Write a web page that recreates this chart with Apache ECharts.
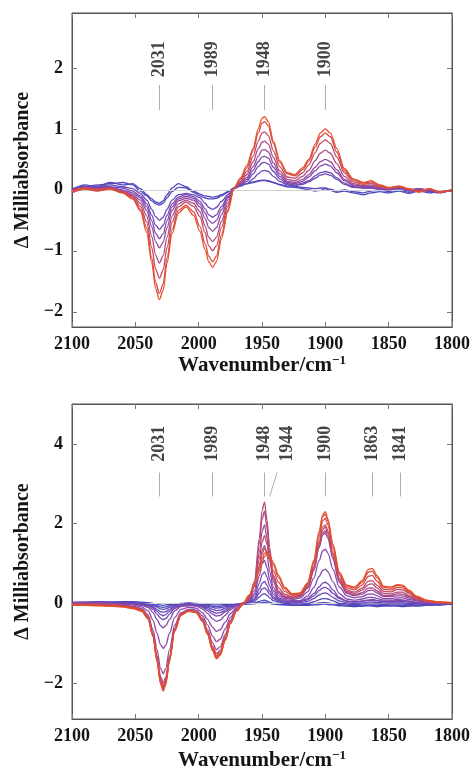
<!DOCTYPE html>
<html>
<head>
<meta charset="utf-8" />
<title></title>
<style>
html,body{margin:0;padding:0;background:#fff;}
#chart{width:473px;height:772px;}
</style>
</head>
<body>
<div id="chart"></div>
<script src="https://cdn.jsdelivr.net/npm/echarts@6/dist/echarts.min.js"></script>
<script>
// wavenumbers (cm-1) sampled for the upper panel
var topX = [2100,2090,2080,2070,2060,2052,2046,2041,2037,2034,2031,2028,2025,2021,2016,2010,
            2004,1999,1995,1992,1989,1986,1982,1977,1972,
            1967,1962,1957,1953,1950,1948,1945,1941,1936,
            1930,1924,1918,1913,1908,1904,1900,
            1896,1891,1885,1878,1870,1864,1857,1850,1842,1834,1826,1818,1810,1800];

// upper panel spectra, blue (first) to red (last)
var top0 = [0.0,0.08,0.05,0.12,0.08,0.1,0.02,-0.08,-0.15,-0.2,-0.22,-0.18,-0.08,0.03,0.1,0.05,
            -0.02,-0.07,-0.1,-0.11,-0.12,-0.11,-0.08,-0.03,0.03,
            0.07,0.1,0.13,0.15,0.16,0.16,0.15,0.12,0.08,
            0.05,0.04,0.02,0.0,-0.02,-0.01,0.02,
            -0.01,-0.04,-0.02,-0.05,-0.08,-0.05,-0.03,-0.05,-0.02,-0.06,-0.02,-0.05,-0.03,-0.02];
var top1 = [-0.03,0.05,0.08,0.1,0.12,0.08,-0.02,-0.1,-0.18,-0.23,-0.25,-0.22,-0.13,-0.03,0.04,0.03,
            -0.04,-0.1,-0.13,-0.15,-0.15,-0.14,-0.1,-0.04,0.03,
            0.08,0.1,0.12,0.14,0.15,0.15,0.14,0.12,0.09,
            0.06,0.06,0.04,0.03,0.02,0.03,0.03,
            0.01,-0.02,0.0,-0.03,-0.05,-0.02,0.0,-0.03,0.0,-0.04,0.0,-0.03,-0.05,0.0];
var top2 = [0.02,0.06,0.04,0.08,0.05,0.02,-0.06,-0.17,-0.32,-0.44,-0.5,-0.45,-0.32,-0.17,-0.08,-0.06,
            -0.08,-0.13,-0.22,-0.29,-0.32,-0.29,-0.19,-0.08,0.02,
            0.06,0.1,0.18,0.26,0.31,0.32,0.3,0.22,0.14,
            0.08,0.07,0.09,0.13,0.19,0.24,0.26,
            0.24,0.17,0.09,0.04,0.03,0.03,0.01,0.0,0.02,-0.02,0.01,-0.02,-0.04,0.0];
var top3 = [0.0,0.04,0.06,0.05,0.03,-0.02,-0.1,-0.23,-0.42,-0.58,-0.65,-0.58,-0.42,-0.23,-0.12,-0.08,
            -0.11,-0.19,-0.31,-0.41,-0.45,-0.41,-0.27,-0.11,0.02,
            0.08,0.14,0.26,0.38,0.44,0.45,0.42,0.3,0.18,
            0.1,0.08,0.11,0.15,0.23,0.28,0.3,
            0.28,0.2,0.11,0.05,0.03,0.03,0.02,0.01,0.03,-0.01,0.02,-0.02,-0.03,0.0];
var top4 = [-0.02,0.03,0.04,0.04,0.0,-0.05,-0.13,-0.28,-0.51,-0.71,-0.8,-0.72,-0.51,-0.28,-0.15,-0.11,
            -0.14,-0.23,-0.38,-0.5,-0.55,-0.5,-0.33,-0.13,0.02,
            0.09,0.17,0.32,0.46,0.54,0.55,0.52,0.37,0.22,
            0.12,0.1,0.14,0.21,0.31,0.39,0.42,
            0.39,0.28,0.15,0.07,0.05,0.05,0.03,0.01,0.03,0.0,0.02,-0.01,-0.03,0.0];
var top5 = [-0.03,0.02,0.02,0.03,-0.02,-0.08,-0.17,-0.34,-0.61,-0.85,-0.95,-0.86,-0.62,-0.34,-0.18,-0.14,
            -0.17,-0.28,-0.47,-0.62,-0.68,-0.62,-0.41,-0.17,0.02,
            0.1,0.2,0.38,0.55,0.65,0.66,0.62,0.44,0.26,
            0.14,0.12,0.17,0.25,0.37,0.46,0.5,
            0.46,0.33,0.17,0.08,0.06,0.06,0.03,0.01,0.04,0.0,0.01,0.0,-0.03,-0.01];
var top6 = [-0.04,0.02,0.0,0.03,-0.03,-0.1,-0.22,-0.43,-0.77,-1.07,-1.2,-1.08,-0.78,-0.43,-0.23,-0.17,
            -0.22,-0.36,-0.59,-0.78,-0.85,-0.78,-0.52,-0.22,0.02,
            0.12,0.25,0.46,0.67,0.78,0.8,0.75,0.53,0.31,
            0.17,0.15,0.22,0.32,0.48,0.6,0.65,
            0.6,0.43,0.22,0.1,0.07,0.08,0.04,0.02,0.05,0.01,-0.01,0.01,-0.03,-0.01];
var top7 = [-0.05,0.01,-0.02,0.02,-0.04,-0.12,-0.27,-0.53,-0.95,-1.3,-1.45,-1.31,-0.95,-0.53,-0.28,-0.2,
            -0.27,-0.44,-0.7,-0.92,-1.0,-0.92,-0.62,-0.27,0.03,
            0.14,0.3,0.55,0.8,0.93,0.95,0.89,0.64,0.38,
            0.21,0.19,0.28,0.41,0.61,0.76,0.82,
            0.76,0.54,0.28,0.13,0.09,0.11,0.05,0.03,0.05,0.01,-0.02,0.01,-0.04,-0.01];
var top8 = [-0.03,0.02,-0.01,0.01,-0.05,-0.14,-0.32,-0.63,-1.12,-1.52,-1.7,-1.54,-1.12,-0.65,-0.34,-0.25,
            -0.36,-0.6,-0.88,-1.09,-1.18,-1.09,-0.74,-0.33,0.03,
            0.17,0.36,0.64,0.93,1.09,1.12,1.05,0.76,0.45,
            0.26,0.23,0.33,0.47,0.7,0.87,0.93,
            0.87,0.62,0.32,0.16,0.11,0.13,0.07,0.03,0.06,0.01,-0.03,0.02,-0.04,0.0];
var top9 = [-0.02,0.03,0.0,0.02,-0.05,-0.15,-0.35,-0.7,-1.2,-1.62,-1.8,-1.65,-1.2,-0.72,-0.38,-0.28,
            -0.42,-0.68,-0.98,-1.18,-1.27,-1.18,-0.8,-0.36,0.04,
            0.19,0.4,0.68,1.0,1.17,1.2,1.12,0.8,0.48,
            0.28,0.25,0.36,0.5,0.75,0.93,1.0,
            0.93,0.68,0.35,0.18,0.12,0.15,0.08,0.04,0.06,0.02,-0.04,0.02,-0.04,0.0];

// wavenumbers sampled for the lower panel
var botX = [2100,2090,2080,2070,2060,2052,2045,2040,2036,2033,2030,2028,2026,2023,2019,2014,
            2008,2002,1997,1993,1989,1986,1983,1979,1975,1970,1965,
            1960,1956,1952,1950,1948,1946,1944,1941,1937,1932,1926,1920,
            1914,1909,1905,1902,1900,1898,1894,1889,1883,1877,1871,
            1866,1863,1859,1854,1848,1843,1839,1834,1828,1820,1812,1806,1800];

// lower panel spectra, blue (first) to red (last)
var bot0 = [0.0,0.01,0.02,0.03,0.04,0.04,0.03,0.02,0.0,-0.02,-0.04,-0.05,-0.04,-0.03,-0.01,0.0,
            0.01,0.0,-0.01,-0.03,-0.04,-0.04,-0.04,-0.03,-0.03,-0.02,-0.02,
            -0.02,-0.01,0.01,0.02,0.03,0.02,0.0,-0.02,-0.03,-0.04,-0.05,-0.05,
            -0.05,-0.04,-0.03,-0.02,-0.02,-0.03,-0.04,-0.06,-0.07,-0.08,-0.07,
            -0.06,-0.07,-0.08,-0.07,-0.06,-0.07,-0.08,-0.07,-0.06,-0.05,-0.04,-0.03,-0.02];
var bot1 = [0.01,0.02,0.04,0.03,0.03,0.02,0.01,-0.01,-0.03,-0.06,-0.09,-0.1,-0.09,-0.06,-0.03,-0.01,
            0.0,-0.01,-0.03,-0.05,-0.07,-0.08,-0.07,-0.06,-0.04,-0.02,-0.01,
            0.0,0.01,0.05,0.07,0.08,0.06,0.03,0.0,-0.02,-0.03,-0.04,-0.04,
            -0.03,-0.01,0.01,0.02,0.02,0.01,-0.01,-0.03,-0.05,-0.05,-0.06,
            -0.05,-0.05,-0.06,-0.05,-0.06,-0.05,-0.06,-0.05,-0.06,-0.05,-0.04,-0.03,-0.02];
var bot2 = [0.02,0.03,0.03,0.03,0.02,0.01,0.0,-0.02,-0.05,-0.09,-0.14,-0.15,-0.14,-0.1,-0.05,-0.02,
            -0.01,-0.02,-0.04,-0.07,-0.1,-0.12,-0.11,-0.08,-0.05,-0.02,0.0,
            0.02,0.05,0.16,0.22,0.24,0.2,0.14,0.07,0.03,0.0,-0.02,-0.02,
            0.0,0.04,0.09,0.12,0.12,0.11,0.06,0.0,-0.02,-0.03,-0.02,
            -0.02,-0.02,-0.02,-0.03,-0.02,-0.02,-0.02,-0.03,-0.04,-0.03,-0.04,-0.02,-0.01];
var bot3 = [0.03,0.02,0.03,0.02,0.01,0.0,-0.01,-0.04,-0.08,-0.15,-0.21,-0.22,-0.21,-0.15,-0.07,-0.03,
            -0.02,-0.03,-0.06,-0.1,-0.15,-0.18,-0.17,-0.12,-0.07,-0.02,0.0,
            0.03,0.09,0.26,0.36,0.39,0.33,0.23,0.12,0.06,0.03,0.01,0.02,
            0.05,0.12,0.21,0.25,0.26,0.24,0.15,0.06,0.01,0.0,0.01,
            0.03,0.03,0.02,0.01,0.01,0.01,0.01,0.0,-0.01,-0.02,-0.02,-0.01,0.0];
var bot4 = [0.02,0.03,0.02,0.02,0.01,0.0,-0.02,-0.05,-0.11,-0.2,-0.28,-0.31,-0.28,-0.2,-0.1,-0.04,
            -0.03,-0.04,-0.08,-0.14,-0.21,-0.25,-0.23,-0.17,-0.09,-0.03,0.0,
            0.04,0.12,0.36,0.5,0.55,0.45,0.31,0.16,0.08,0.05,0.03,0.04,
            0.09,0.19,0.32,0.39,0.4,0.37,0.25,0.12,0.05,0.03,0.05,
            0.07,0.07,0.06,0.04,0.04,0.05,0.04,0.03,0.01,0.0,-0.01,0.0,0.0];
var bot5 = [0.02,0.02,0.01,0.01,0.0,-0.01,-0.03,-0.07,-0.15,-0.27,-0.37,-0.41,-0.38,-0.27,-0.13,-0.06,
            -0.04,-0.05,-0.1,-0.18,-0.27,-0.32,-0.3,-0.21,-0.12,-0.04,0.01,
            0.06,0.18,0.51,0.72,0.79,0.65,0.44,0.23,0.11,0.06,0.05,0.06,
            0.12,0.25,0.41,0.51,0.53,0.49,0.33,0.15,0.06,0.04,0.06,
            0.09,0.1,0.07,0.05,0.06,0.07,0.07,0.05,0.02,0.01,0.0,-0.01,0.0];
var bot6 = [0.02,0.01,0.0,0.0,-0.01,-0.02,-0.05,-0.1,-0.23,-0.4,-0.56,-0.61,-0.56,-0.4,-0.19,-0.08,
            -0.06,-0.07,-0.14,-0.25,-0.39,-0.45,-0.42,-0.3,-0.16,-0.06,0.0,
            0.08,0.24,0.7,0.99,1.08,0.89,0.6,0.31,0.14,0.09,0.07,0.07,
            0.18,0.4,0.67,0.83,0.86,0.79,0.54,0.25,0.11,0.08,0.11,
            0.15,0.15,0.12,0.08,0.08,0.1,0.09,0.06,0.03,0.01,0.0,0.0,0.0];
var bot7 = [0.01,0.0,0.0,-0.01,-0.03,-0.04,-0.09,-0.19,-0.42,-0.74,-1.04,-1.13,-1.05,-0.75,-0.36,-0.15,
            -0.1,-0.12,-0.23,-0.4,-0.6,-0.7,-0.66,-0.47,-0.26,-0.1,-0.01,
            0.1,0.32,0.94,1.32,1.45,1.19,0.8,0.4,0.19,0.12,0.1,0.13,
            0.29,0.64,1.07,1.32,1.36,1.26,0.86,0.41,0.19,0.14,0.17,
            0.23,0.24,0.19,0.12,0.12,0.14,0.14,0.1,0.06,0.02,0.01,0.0,0.0];
var bot8 = [0.0,0.0,-0.01,-0.02,-0.04,-0.07,-0.13,-0.29,-0.66,-1.15,-1.63,-1.77,-1.63,-1.16,-0.55,-0.23,
            -0.15,-0.17,-0.31,-0.54,-0.82,-0.96,-0.9,-0.64,-0.36,-0.13,-0.01,
            0.13,0.43,1.28,1.8,1.97,1.62,1.09,0.54,0.25,0.15,0.13,0.17,
            0.38,0.83,1.39,1.72,1.77,1.63,1.11,0.53,0.25,0.19,0.23,
            0.32,0.33,0.26,0.17,0.17,0.19,0.19,0.14,0.08,0.03,0.01,0.01,0.0];
var bot9 = [0.0,-0.01,-0.01,-0.02,-0.05,-0.08,-0.15,-0.33,-0.75,-1.31,-1.84,-2.0,-1.85,-1.32,-0.63,-0.26,
            -0.17,-0.2,-0.38,-0.66,-0.99,-1.16,-1.09,-0.78,-0.43,-0.16,-0.02,
            0.14,0.5,1.5,2.11,2.31,1.89,1.26,0.61,0.27,0.16,0.13,0.18,
            0.39,0.85,1.43,1.77,1.82,1.68,1.15,0.56,0.27,0.21,0.27,
            0.38,0.39,0.31,0.2,0.2,0.24,0.23,0.17,0.09,0.04,0.02,0.01,0.01];
var bot10 = [-0.01,-0.02,-0.02,-0.03,-0.05,-0.08,-0.16,-0.34,-0.78,-1.35,-1.91,-2.08,-1.91,-1.36,-0.65,-0.28,
             -0.18,-0.21,-0.41,-0.71,-1.08,-1.26,-1.18,-0.84,-0.47,-0.17,-0.01,
             0.16,0.55,1.64,2.32,2.54,2.08,1.4,0.69,0.31,0.19,0.14,0.2,
             0.41,0.9,1.49,1.85,1.91,1.76,1.21,0.6,0.3,0.25,0.33,
             0.47,0.49,0.38,0.25,0.24,0.28,0.28,0.2,0.11,0.05,0.02,0.01,0.01];
var bot11 = [-0.03,-0.03,-0.04,-0.04,-0.07,-0.1,-0.17,-0.35,-0.8,-1.39,-1.96,-2.13,-1.96,-1.4,-0.67,-0.28,
             -0.19,-0.22,-0.42,-0.74,-1.12,-1.31,-1.23,-0.88,-0.49,-0.19,-0.03,
             0.14,0.43,1.12,1.53,1.7,1.47,1.1,0.68,0.39,0.23,0.16,0.21,
             0.43,0.93,1.54,1.92,1.97,1.82,1.27,0.64,0.34,0.28,0.38,
             0.56,0.57,0.45,0.3,0.29,0.35,0.34,0.25,0.13,0.06,0.03,0.02,0.02];
var bot12 = [-0.04,-0.04,-0.05,-0.06,-0.08,-0.11,-0.18,-0.37,-0.8,-1.4,-1.97,-2.15,-1.98,-1.41,-0.68,-0.29,
             -0.19,-0.22,-0.43,-0.75,-1.14,-1.34,-1.26,-0.9,-0.5,-0.19,-0.02,
             0.17,0.43,0.94,1.23,1.38,1.3,1.1,0.82,0.53,0.3,0.2,0.23,
             0.47,1.01,1.67,2.07,2.13,1.97,1.38,0.71,0.39,0.34,0.46,
             0.68,0.7,0.55,0.35,0.34,0.4,0.39,0.28,0.15,0.07,0.03,0.02,0.02];
var bot13 = [-0.04,-0.05,-0.05,-0.06,-0.08,-0.11,-0.19,-0.38,-0.82,-1.42,-2.0,-2.18,-2.01,-1.43,-0.69,-0.29,
             -0.19,-0.23,-0.44,-0.77,-1.17,-1.37,-1.28,-0.92,-0.51,-0.18,0.0,
             0.2,0.45,0.88,1.11,1.26,1.27,1.18,0.96,0.65,0.37,0.22,0.25,
             0.5,1.06,1.76,2.18,2.24,2.07,1.45,0.76,0.43,0.38,0.53,
             0.78,0.81,0.64,0.4,0.38,0.45,0.43,0.31,0.17,0.07,0.04,0.03,0.02];
var bot14 = [-0.05,-0.05,-0.06,-0.07,-0.09,-0.13,-0.2,-0.39,-0.83,-1.44,-2.03,-2.2,-2.04,-1.45,-0.7,-0.3,
             -0.2,-0.23,-0.45,-0.78,-1.19,-1.39,-1.3,-0.93,-0.51,-0.18,0.0,
             0.21,0.46,0.83,1.02,1.18,1.23,1.19,1.02,0.71,0.4,0.24,0.26,
             0.51,1.09,1.8,2.23,2.3,2.12,1.49,0.78,0.46,0.41,0.57,
             0.85,0.88,0.69,0.43,0.41,0.47,0.46,0.33,0.18,0.08,0.04,0.03,0.02];

// ticks and peak annotations
var xTicks = [2100, 2050, 2000, 1950, 1900, 1850, 1800];
var topYTicks = [-2, -1, 0, 1, 2];
var botYTicks = [-2, 0, 2, 4];
var topPeaks = [2031, 1989, 1948, 1900];
var botPeaks = [2031, 1989, 1948, 1944, 1900, 1863, 1841];

var topSpectra = [top0, top1, top2, top3, top4, top5, top6, top7, top8, top9];
var botSpectra = [bot0, bot1, bot2, bot3, bot4, bot5, bot6, bot7, bot8, bot9, bot10, bot11, bot12, bot13, bot14];

var serif = 'Liberation Serif';
var ink = '#151515';
var weight = 'bold';

function minus(v) { return String(v).replace('-', '\u2212'); }

// blue -> purple -> red
function lineColor(t) {
	var a, b, f;
	var blue = [72, 72, 192], purple = [140, 72, 172], red = [234, 78, 40];
	if (t < 0.5) { a = blue; b = purple; f = t / 0.5; }
	else { a = purple; b = red; f = (t - 0.5) / 0.5; }
	var c = [0, 1, 2].map(function (i) { return Math.round(a[i] + (b[i] - a[i]) * f); });
	return 'rgb(' + c.join(',') + ')';
}

function xAx(gi, pos, labels, gap) {
	return {
		type: 'value', gridIndex: gi, position: pos, min: 1800, max: 2100, inverse: true,
		axisLine: { show: true, onZero: false, lineStyle: { color: '#555', width: 1 } },
		axisTick: { show: true, inside: true, length: 5, customValues: xTicks, lineStyle: { color: '#777' } },
		axisLabel: { show: labels, customValues: xTicks, margin: 8, color: ink, fontFamily: serif, fontSize: 18, fontWeight: weight,
			formatter: function (v) { return String(v); } },
		splitLine: { show: false },
		name: labels ? 'Wavenumber/cm{sup|\u22121}' : '',
		nameLocation: 'middle', nameGap: gap,
		nameTextStyle: {
			color: ink, fontFamily: serif, fontSize: 21, fontWeight: weight,
			rich: { sup: { fontSize: 13, fontFamily: serif, fontWeight: weight, color: ink, verticalAlign: 'top', padding: [0, 0, 10, 0] } }
		}
	};
}

function yAx(gi, pos, labels, lo, hi, ticks) {
	return {
		type: 'value', gridIndex: gi, position: pos, min: lo, max: hi,
		axisLine: { show: true, onZero: false, lineStyle: { color: '#555', width: 1 } },
		axisTick: { show: true, inside: true, length: 5, customValues: ticks, lineStyle: { color: '#777' } },
		axisLabel: { show: labels, customValues: ticks, formatter: minus, margin: 9, color: ink, fontFamily: serif, fontSize: 18, fontWeight: weight },
		splitLine: { show: false },
		name: labels ? '\u0394 Milliabsorbance' : '',
		nameLocation: 'middle', nameGap: 38,
		nameTextStyle: { color: ink, fontFamily: serif, fontSize: 20, fontWeight: weight }
	};
}

function spectra(xs, list, ax) {
	return list.map(function (ys, k) {
		return {
			type: 'line', xAxisIndex: ax, yAxisIndex: ax,
			data: xs.map(function (x, i) { return [x, ys[i]]; }),
			symbol: 'none', smooth: 0.3, smoothMonotone: 'x',
			lineStyle: { width: 1.3, color: lineColor(k / (list.length - 1)) },
			silent: true, z: 3 + k
		};
	});
}

// rotated peak labels with their short guide lines
function peaks(ax, labelX, labelY, lineBottom, lineTopX, y1, y2) {
	var lines = labelX.map(function (x, i) {
		return [{ coord: [lineBottom[i], y1] }, { coord: [lineTopX[i], y2] }];
	});
	lines.push([{ coord: [2100, 0], lineStyle: { color: '#d0d0d0' } }, { coord: [1800, 0] }]);
	return {
		type: 'scatter', xAxisIndex: ax, yAxisIndex: ax, symbolSize: 1,
		itemStyle: { color: 'rgba(0,0,0,0)' }, silent: true, z: 1,
		data: labelX.map(function (x, i) { return [x, labelY, String(lineBottom[i])]; }),
		label: {
			show: true, position: 'inside', rotate: 90, color: ink, fontFamily: serif, fontSize: 18, fontWeight: weight,
			formatter: function (p) { return p.data[2]; }
		},
		markLine: {
			silent: true, symbol: 'none', animation: false,
			label: { show: false },
			lineStyle: { color: '#b4aca6', width: 1, type: 'solid' },
			data: lines
		}
	};
}

var series = []
	.concat([peaks(0, topPeaks, 2.14, topPeaks, topPeaks, 1.31, 1.72)])
	.concat([peaks(2, [2031, 1989, 1948, 1930, 1900, 1863, 1841], 4.0, botPeaks, [2031, 1989, 1948, 1938, 1900, 1863, 1841], 2.68, 3.28)])
	.concat(spectra(topX, topSpectra, 0))
	.concat(spectra(botX, botSpectra, 2));

var chart = echarts.init(document.getElementById('chart'));
chart.setOption({
	animation: false,
	backgroundColor: '#fff',
	grid: [
		{ left: 72, top: 13, width: 381, height: 314, show: true, borderColor: '#555', borderWidth: 1 },
		{ left: 72, top: 404, width: 381, height: 315, show: true, borderColor: '#555', borderWidth: 1 }
	],
	xAxis: [xAx(0, 'bottom', true, 24), xAx(0, 'top', false, 0), xAx(1, 'bottom', true, 30), xAx(1, 'top', false, 0)],
	yAxis: [yAx(0, 'left', true, -2.25, 2.9, topYTicks), yAx(0, 'right', false, -2.25, 2.9, topYTicks),
	        yAx(1, 'left', true, -2.9, 5, botYTicks), yAx(1, 'right', false, -2.9, 5, botYTicks)],
	series: series
});
</script>
</body>
</html>
